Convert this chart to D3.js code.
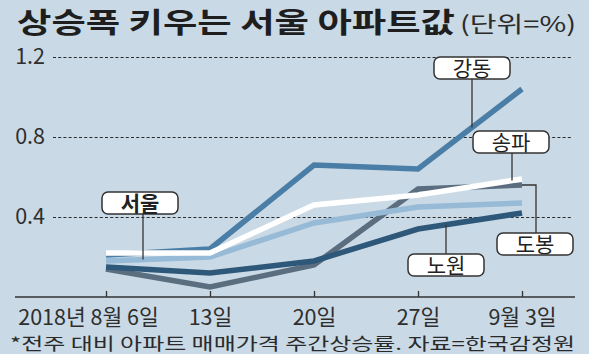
<!DOCTYPE html>
<html><head><meta charset="utf-8">
<script src="https://cdn.jsdelivr.net/npm/d3@7/dist/d3.min.js"></script>
<style>
html,body{margin:0;padding:0;background:#c9d9e5;}
svg{display:block;}
text{font-family:"Noto Sans CJK KR","Noto Sans",sans-serif;}
</style></head>
<body>
<svg id="c" width="589" height="354"></svg>
<script>
// ---- data ----
const dates = ["2018년 8월 6일", "13일", "20일", "27일", "9월 3일"];
const yTicks = [0.4, 0.8, 1.2];
const seoul    = [0.18, 0.20, 0.37, 0.45, 0.47];
const gangdong = [0.21, 0.24, 0.66, 0.64, 1.04];
const songpa   = [0.22, 0.22, 0.46, 0.51, 0.59];
const dobong   = [0.14, 0.05, 0.16, 0.54, 0.56];
const nowon    = [0.15, 0.12, 0.18, 0.34, 0.42];
const title = "상승폭 키우는 서울 아파트값";
const unit = "(단위=%)";
const note = "*전주 대비 아파트 매매가격 주간상승률. 자료=한국감정원";

// ---- layout ----
const svg = d3.select("#c");
svg.append("rect").attr("width",589).attr("height",354).attr("fill","#c9d9e5");
const x = d3.scalePoint().domain(dates).range([106, 522]);
const y = d3.scaleLinear().domain([0, 1.2]).range([297, 57]);

// title
svg.append("text").attr("x",17).attr("y",33).attr("font-size",28.5).attr("font-weight",700)
  .attr("fill","#1e1e1e").attr("textLength",438).attr("lengthAdjust","spacingAndGlyphs").text(title);
svg.append("text").attr("x",460).attr("y",32).attr("font-size",22)
  .attr("fill","#2a2a2a").attr("textLength",116).attr("lengthAdjust","spacingAndGlyphs").text(unit);

// grid + y labels
const gy = svg.append("g").attr("transform","translate(53,0)")
  .call(d3.axisLeft(y).tickValues(yTicks).tickSize(-520).tickPadding(8).tickFormat(d3.format(".1f")));
gy.select(".domain").remove();
gy.selectAll(".tick line").attr("stroke","#2a2a2a").attr("stroke-width",1).attr("stroke-dasharray","3,2.2");
gy.selectAll(".tick text").attr("font-size",21.5).attr("fill","#2e2e2e").attr("font-family","Noto Sans CJK KR");

// x axis
svg.append("line").attr("x1",15).attr("x2",575).attr("y1",y(0)).attr("y2",y(0))
  .attr("stroke","#333").attr("stroke-width",1.5);
const gx = svg.append("g").attr("transform",`translate(0,${y(0)})`)
  .call(d3.axisBottom(x).tickSize(-6).tickPadding(13));
gx.select(".domain").remove();
gx.selectAll(".tick line").attr("stroke","#333").attr("stroke-width",1.3);
gx.selectAll(".tick text").attr("font-size",21.5).attr("fill","#2e2e2e").attr("font-family","Noto Sans CJK KR")
  .attr("dx",(d,i)=> i===0 ? -18 : 0);

// footnote
svg.append("text").attr("x",10).attr("y",350).attr("font-size",17).attr("fill","#2a2a2a")
  .attr("textLength",565).attr("lengthAdjust","spacingAndGlyphs").text(note);

// lines (bottom to top)
const series = [
  {name:"도봉", vals:dobong,   color:"#5a6e80"},
  {name:"노원", vals:nowon,    color:"#2e5879"},
  {name:"강동", vals:gangdong, color:"#4b7ea6"},
  {name:"서울", vals:seoul,    color:"#97bad7"},
  {name:"송파", vals:songpa,   color:"#ffffff"}
];
const line = d3.line().x((d,i)=>x(dates[i])).y(d=>y(d));
svg.append("g").selectAll("path").data(series).join("path")
  .attr("d",d=>line(d.vals)).attr("fill","none").attr("stroke",d=>d.color)
  .attr("stroke-width",5.5).attr("stroke-linejoin","miter");

// value on a series at pixel x
function valAt(vals, px){
  const xs = dates.map(d=>x(d));
  for(let i=0;i<xs.length-1;i++){
    if(px>=xs[i] && px<=xs[i+1]){const t=(px-xs[i])/(xs[i+1]-xs[i]); return y(vals[i]+(vals[i+1]-vals[i])*t);}
  }
  return y(vals[vals.length-1]);
}

// annotations: label box position + leader
const ann = [
  {name:"서울", vals:seoul,   bx:102, by:192, lx:143, bold:true},
  {name:"강동", vals:gangdong,bx:434, by:57,  lx:472},
  {name:"송파", vals:songpa,  bx:473, by:131, lx:512},
  {name:"노원", vals:nowon,   bx:408, by:254, lx:446},
  {name:"도봉", vals:dobong,  bx:497, by:233, lx:536, elbow:true}
];
const bw=76, bh=22;
const ag = svg.append("g");
ann.forEach(a=>{
  let p;
  if(a.elbow){
    const ex = x(dates[dates.length-1]), ey = y(a.vals[a.vals.length-1]);
    p = `M${ex},${ey}H${a.lx}V${a.by}`;
  } else if(a.by < valAt(a.vals,a.lx)){
    p = `M${a.lx},${a.by+bh}V${valAt(a.vals,a.lx)}`;
  } else {
    p = `M${a.lx},${valAt(a.vals,a.lx)}V${a.by}`;
  }
  ag.append("path").attr("d",p).attr("fill","none").attr("stroke","#333").attr("stroke-width",1.3);
  ag.append("rect").attr("x",a.bx).attr("y",a.by).attr("width",bw).attr("height",bh).attr("rx",6)
    .attr("fill","#fff").attr("stroke","#333").attr("stroke-width",1.5);
  ag.append("text").attr("x",a.bx+bw/2).attr("y",a.by+bh/2).attr("dy","0.36em").attr("text-anchor","middle")
    .attr("font-size",21).attr("font-weight",a.bold?700:400).attr("fill","#222").text(a.name);
});
</script>
</body></html>
